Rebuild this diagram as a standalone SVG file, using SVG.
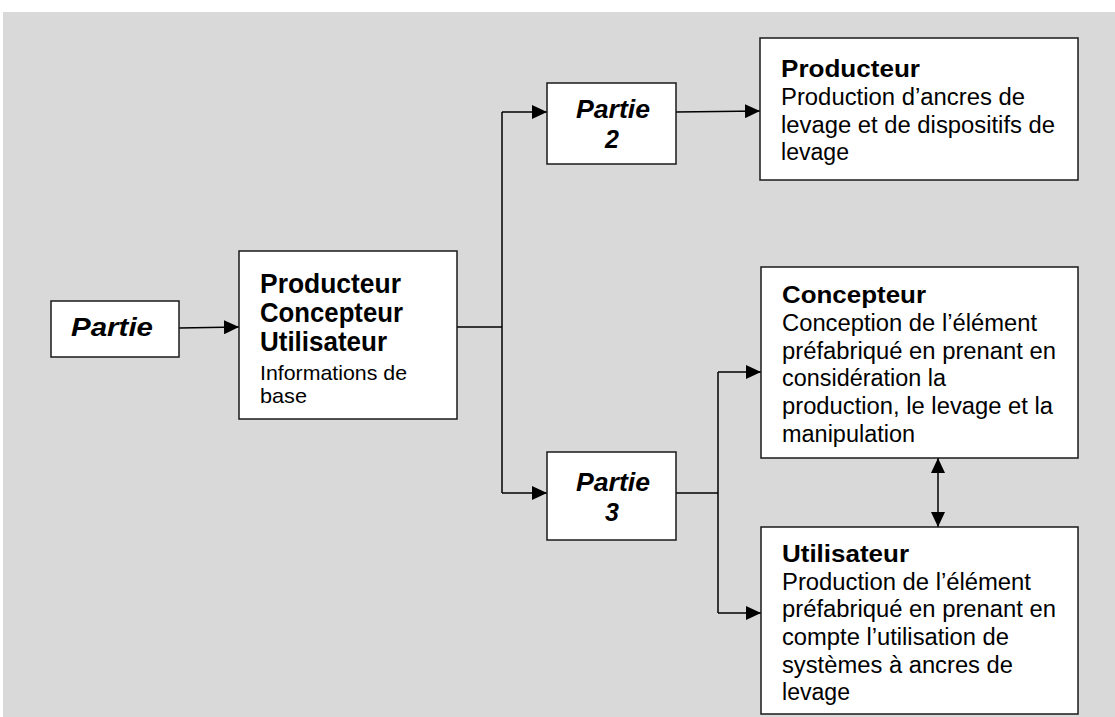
<svg xmlns="http://www.w3.org/2000/svg" width="1115" height="717" viewBox="0 0 1115 717">
<defs>
<marker id="ah" markerUnits="userSpaceOnUse" markerWidth="16" markerHeight="14" refX="15" refY="7" orient="auto-start-reverse">
<path d="M0,0 L15,7 L0,14 Z" fill="#000"/>
</marker>
<style>
.box{fill:#fff;stroke:#1a1a1a;stroke-width:1.5}
.ln{fill:none;stroke:#000;stroke-width:1.5}
text{font-family:"Liberation Sans",Arial,sans-serif;fill:#000}
.h{font-weight:bold;font-size:24px}
.hm{font-weight:bold;font-size:27px}
.b{font-size:23px}
.bm{font-size:21px}
.p{font-weight:bold;font-style:italic;font-size:25px;text-anchor:middle}
</style>
</defs>
<rect x="0" y="0" width="1115" height="717" fill="#fff"/>
<rect x="3" y="12" width="1112" height="705" fill="#d9d9d9"/>

<g id="connectors">
<path class="ln" d="M179,328 L239,327" marker-end="url(#ah)"/>
<path class="ln" d="M457,327 L502,327"/>
<path class="ln" d="M502,112 L502,493"/>
<path class="ln" d="M502,112 L547,112" marker-end="url(#ah)"/>
<path class="ln" d="M502,493 L547,493" marker-end="url(#ah)"/>
<path class="ln" d="M676,112 L760,111" marker-end="url(#ah)"/>
<path class="ln" d="M676,493 L718,493"/>
<path class="ln" d="M718,372 L718,613"/>
<path class="ln" d="M718,372 L761,372" marker-end="url(#ah)"/>
<path class="ln" d="M718,613 L761,613" marker-end="url(#ah)"/>
<path class="ln" d="M938,458 L938,527" marker-start="url(#ah)" marker-end="url(#ah)"/>
</g>

<g id="partie1">
<rect class="box" x="51" y="301" width="128" height="56"/>
<text class="p" x="112" y="336" textLength="82" lengthAdjust="spacingAndGlyphs">Partie</text>
</g>

<g id="main">
<rect class="box" x="239" y="251" width="218" height="168"/>
<text class="hm" x="260" y="293" textLength="141" lengthAdjust="spacingAndGlyphs">Producteur</text>
<text class="hm" x="260" y="322" textLength="143" lengthAdjust="spacingAndGlyphs">Concepteur</text>
<text class="hm" x="260" y="351" textLength="127" lengthAdjust="spacingAndGlyphs">Utilisateur</text>
<text class="bm" x="260" y="380" textLength="147" lengthAdjust="spacingAndGlyphs">Informations de</text>
<text class="bm" x="260" y="403" textLength="47" lengthAdjust="spacingAndGlyphs">base</text>
</g>

<g id="partie2">
<rect class="box" x="547" y="83" width="129" height="81"/>
<text class="p" x="613" y="118" textLength="74" lengthAdjust="spacingAndGlyphs">Partie</text>
<text class="p" x="612" y="148">2</text>
</g>

<g id="partie3">
<rect class="box" x="547" y="452" width="129" height="88"/>
<text class="p" x="613" y="491" textLength="74" lengthAdjust="spacingAndGlyphs">Partie</text>
<text class="p" x="612" y="521">3</text>
</g>

<g id="producteur">
<rect class="box" x="760" y="38" width="318" height="142"/>
<text class="h" x="781" y="77" textLength="139" lengthAdjust="spacingAndGlyphs">Producteur</text>
<text class="b" x="781" y="104.5" textLength="244" lengthAdjust="spacingAndGlyphs">Production d’ancres de</text>
<text class="b" x="781" y="132.5" textLength="274" lengthAdjust="spacingAndGlyphs">levage et de dispositifs de</text>
<text class="b" x="781" y="160" textLength="68" lengthAdjust="spacingAndGlyphs">levage</text>
</g>

<g id="concepteur">
<rect class="box" x="761" y="267" width="317" height="191"/>
<text class="h" x="782" y="303" textLength="144" lengthAdjust="spacingAndGlyphs">Concepteur</text>
<text class="b" x="782" y="331" textLength="255" lengthAdjust="spacingAndGlyphs">Conception de l’élément</text>
<text class="b" x="782" y="359" textLength="274" lengthAdjust="spacingAndGlyphs">préfabriqué en prenant en</text>
<text class="b" x="782" y="386" textLength="164" lengthAdjust="spacingAndGlyphs">considération la</text>
<text class="b" x="782" y="414" textLength="271" lengthAdjust="spacingAndGlyphs">production, le levage et la</text>
<text class="b" x="782" y="442" textLength="133" lengthAdjust="spacingAndGlyphs">manipulation</text>
</g>

<g id="utilisateur">
<rect class="box" x="761" y="527" width="317" height="187"/>
<text class="h" x="782" y="562" textLength="127" lengthAdjust="spacingAndGlyphs">Utilisateur</text>
<text class="b" x="782" y="590" textLength="249" lengthAdjust="spacingAndGlyphs">Production de l’élément</text>
<text class="b" x="782" y="617" textLength="274" lengthAdjust="spacingAndGlyphs">préfabriqué en prenant en</text>
<text class="b" x="782" y="645" textLength="227" lengthAdjust="spacingAndGlyphs">compte l’utilisation de</text>
<text class="b" x="782" y="673" textLength="231" lengthAdjust="spacingAndGlyphs">systèmes à ancres de</text>
<text class="b" x="782" y="700" textLength="68" lengthAdjust="spacingAndGlyphs">levage</text>
</g>
</svg>
